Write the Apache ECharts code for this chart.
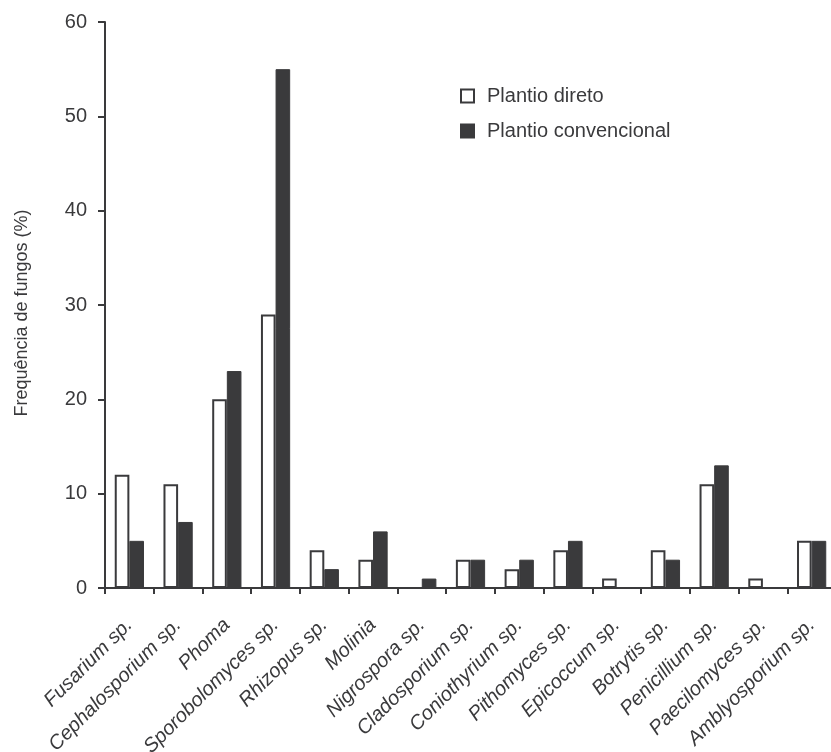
<!DOCTYPE html>
<html><head><meta charset="utf-8">
<script src="https://cdn.jsdelivr.net/npm/echarts@6/dist/echarts.min.js"></script>
<style>html,body{margin:0;padding:0;background:#fff}#c{width:831px;height:752px}</style>
</head><body><div id="c"></div>
<script>
const categories = ['Fusarium sp.','Cephalosporium sp.','Phoma','Sporobolomyces sp.','Rhizopus sp.','Molinia','Nigrospora sp.','Cladosporium sp.','Coniothyrium sp.','Pithomyces sp.','Epicoccum sp.','Botrytis sp.','Penicillium sp.','Paecilomyces sp.','Amblyosporium sp.'];
const plantioDireto = [12,11,20,29,4,3,0,3,2,4,1,4,11,1,5];
const plantioConvencional = [5,7,23,55,2,6,1,3,3,5,0,3,13,0,5];
const yTicks = [0,10,20,30,40,50,60];

const font = 'Liberation Sans, Arial, Helvetica, sans-serif';
const ink = '#3a3a3c';
const chart = echarts.init(document.getElementById('c'), null, {renderer:'canvas'});
chart.setOption({
  animation:false,
  textStyle:{fontFamily:font},
  grid:{left:105, width:731, top:22, bottom:164, containLabel:false, outerBoundsMode:'none'},
  legend:{
    orient:'vertical', left:455, top:81, itemWidth:13, itemHeight:13, itemGap:15,
    icon:'rect',
    textStyle:{fontFamily:font, fontSize:20, color:ink, padding:[0,0,0,8]},
    data:['Plantio direto','Plantio convencional']
  },
  xAxis:{
    type:'category', data:categories,
    axisLine:{lineStyle:{color:ink, width:2}},
    axisTick:{show:true, length:6, lineStyle:{color:ink, width:2}},
    axisLabel:{rotate:45, interval:0, fontStyle:'italic', fontSize:20, color:ink, margin:34, fontFamily:font}
  },
  yAxis:{
    type:'value', min:yTicks[0], max:yTicks[yTicks.length-1], interval:10,
    name:'Frequência de fungos (%)', nameLocation:'middle', nameGap:74,
    nameTextStyle:{fontFamily:font, fontSize:18, color:ink, padding:[0,16,0,0]},
    axisLine:{show:true, lineStyle:{color:ink, width:2}},
    axisTick:{show:true, length:7, lineStyle:{color:ink, width:2}},
    axisLabel:{fontSize:20, color:ink, margin:18, fontFamily:font},
    splitLine:{show:false}
  },
  series:[
    {name:'Plantio direto', type:'bar', data:plantioDireto, barGap:'0%', barCategoryGap:'40%',
     itemStyle:{color:'#ffffff', borderColor:ink, borderWidth:2}},
    {name:'Plantio convencional', type:'bar', data:plantioConvencional,
     itemStyle:{color:ink, borderColor:ink, borderWidth:1}}
  ]
});
</script></body></html>
